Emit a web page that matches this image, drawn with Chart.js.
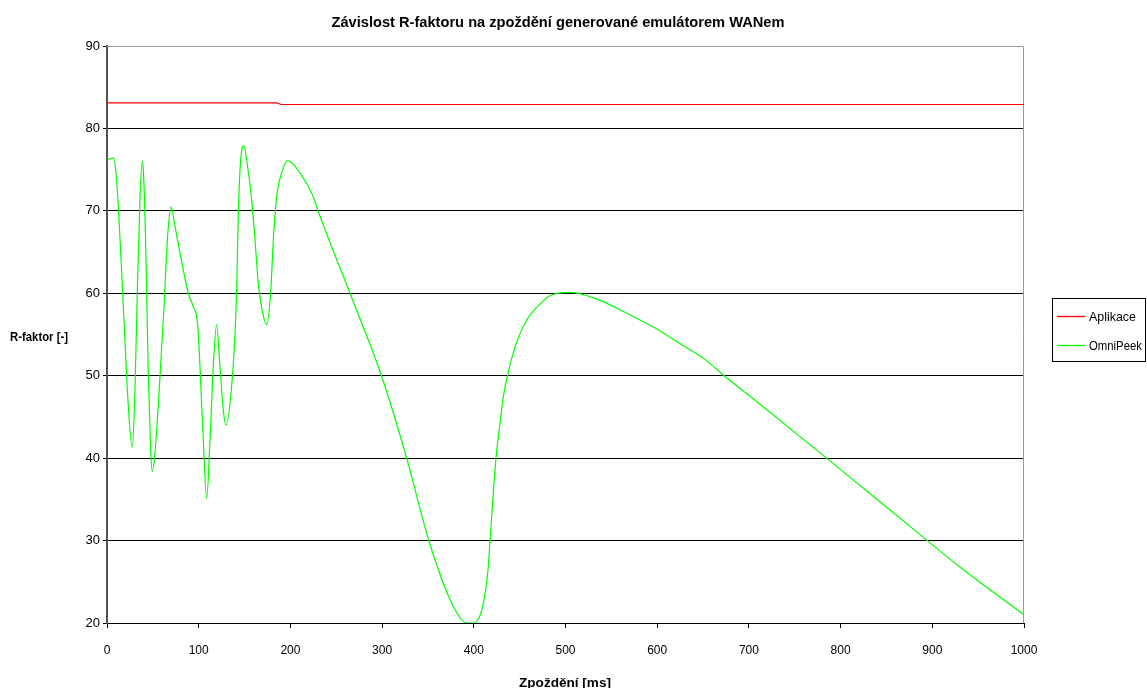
<!DOCTYPE html>
<html>
<head>
<meta charset="utf-8">
<script src="https://cdn.jsdelivr.net/npm/chart.js@4.4.1/dist/chart.umd.min.js"></script>
<style>
  body { margin: 0; background: #fff; overflow: hidden; }
  canvas { display: block; }
</style>
</head>
<body>
<canvas id="rChart" width="1147" height="688"></canvas>
<script>
const chartTitle = "Závislost R-faktoru na zpoždění generované emulátorem WANem";
const xTitle = "Zpoždění [ms]";
const yTitle = "R-faktor [-]";
const seriesNames = ["Aplikace", "OmniPeek"];

// Aplikace - almost flat
const aplikaceDelay = [0, 185, 190, 1000];
const aplikaceR = [83.1, 83.1, 82.9, 82.9];

// OmniPeek
const omniDelay = [
  0, 7.6, 9.8, 12.4, 17.8, 23.3, 27.6, 30.5, 33.1, 36, 38.5, 39.6, 42.1, 45, 47.6,
  49.4, 52.3, 57.8, 62.2, 66.1, 69.8, 74.2, 79.6, 88.7, 94.1, 98.9, 101.4, 105,
  108.7, 112.3, 115.9, 119.5, 123.2, 126.8, 129.8, 135.9, 139.6, 141.4, 143.2,
  145.8, 149.4, 152.3, 157.8, 161.4, 165, 169.8, 174.2, 178.4, 181.4, 185, 190.5,
  197, 210.5, 225, 230.5, 265, 299.6, 326.8, 351.5, 377.7, 392.3, 399.5, 409.6,
  415.8, 417.6, 424.2, 428.6, 432, 438.8, 445, 455.8, 463, 474, 483, 505, 517.6,
  543, 566.7, 595.8, 624.9, 654, 673, 704.8, 784.8, 895.7, 930, 1000
];
const omniR = [
  76.2, 76.4, 74.6, 70.5, 58.4, 46.2, 41.3, 48.3, 60.4, 71.7, 76.0, 75.0, 66.5, 50.3, 41.0,
  38.4, 40.6, 49.9, 58.4, 66.9, 70.5, 68.1, 64.9, 60.0, 58.4, 56.2, 51.1, 42.2,
  35.1, 42.2, 51.1, 56.2, 51.1, 45.8, 44.0, 48.7, 55.1, 60.4, 69.7,
  76.2, 77.9, 76.2, 71.3, 66.5, 61.2, 57.6, 56.2, 60.0, 66.5, 71.7, 74.6,
  76.1, 74.6, 71.7, 69.9, 60.0, 49.9, 40.0, 29.8, 22.0, 20.0, 20.0, 22.0,
  26.8, 29.8, 40.0, 44.2, 47.3, 51.0, 53.5, 56.4, 57.6, 58.9, 59.7, 60.1, 59.9,
  58.9, 57.6, 55.9, 53.9, 51.8, 50.0, 47.2, 40.0, 29.9, 26.8, 21.0
];

const xTicks = [0, 100, 200, 300, 400, 500, 600, 700, 800, 900, 1000];
const yTicks = [20, 30, 40, 50, 60, 70, 80, 90];

const toPoints = (xs, ys) => xs.map((x, i) => ({ x: x, y: ys[i] }));

// draw text squeezed/stretched to a given width (Excel's narrow rendering)
function fitText(ctx, text, cx, y, width, font) {
  ctx.save();
  ctx.font = font;
  const w = ctx.measureText(text).width;
  ctx.translate(cx, y);
  ctx.scale(width / w, 1);
  ctx.textAlign = "center";
  ctx.textBaseline = "alphabetic";
  ctx.fillText(text, 0, 0);
  ctx.restore();
}

const decorations = {
  id: "decorations",
  beforeDatasetsDraw(chart) {
    const ctx = chart.ctx;
    const a = chart.chartArea;
    // plot area border on top and right
    ctx.save();
    ctx.strokeStyle = "#9a9a9a";
    ctx.lineWidth = 1;
    ctx.beginPath();
    ctx.moveTo(a.left, a.top + 0.5);
    ctx.lineTo(a.right - 0.5, a.top + 0.5);
    ctx.lineTo(a.right - 0.5, a.bottom);
    ctx.stroke();
    ctx.restore();
  },
  afterDraw(chart) {
    const ctx = chart.ctx;
    ctx.save();
    ctx.fillStyle = "#000";
    fitText(ctx, chartTitle, 558, 27, 453, "bold 14px 'Liberation Sans', Arial");
    fitText(ctx, yTitle, 39, 341, 58, "bold 12px 'Liberation Sans', Arial");
    fitText(ctx, xTitle, 565, 687, 92, "bold 12px 'Liberation Sans', Arial");

    // legend box
    ctx.strokeStyle = "#000";
    ctx.lineWidth = 1;
    ctx.strokeRect(1052.5, 298.5, 93, 63);
    const rows = [316.5, 345.5];
    const widths = [47, 53];
    chart.data.datasets.forEach((ds, i) => {
      ctx.strokeStyle = ds.borderColor;
      ctx.lineWidth = 1.3;
      ctx.beginPath();
      ctx.moveTo(1057, rows[i]);
      ctx.lineTo(1085, rows[i]);
      ctx.stroke();
      ctx.fillStyle = "#000";
      fitText(ctx, ds.label, 1089 + widths[i] / 2, rows[i] + 4.5, widths[i], "12px 'Liberation Sans', Arial");
    });
    ctx.restore();
  }
};

const ctx = document.getElementById("rChart").getContext("2d");

new Chart(ctx, {
  type: "scatter",
  data: {
    datasets: [
      {
        label: seriesNames[0],
        data: toPoints(aplikaceDelay, aplikaceR),
        borderColor: "#ff0000",
        borderWidth: 1.2,
        showLine: true,
        pointRadius: 0,
        tension: 0
      },
      {
        label: seriesNames[1],
        data: toPoints(omniDelay, omniR),
        borderColor: "#00ff00",
        borderWidth: 1.2,
        showLine: true,
        pointRadius: 0,
        cubicInterpolationMode: "monotone"
      }
    ]
  },
  options: {
    responsive: false,
    animation: false,
    layout: {
      padding: { left: 0, right: 123, top: 46, bottom: 0 }
    },
    plugins: {
      legend: { display: false },
      title: { display: false },
      tooltip: { enabled: false }
    },
    scales: {
      x: {
        type: "linear",
        min: 0,
        max: 1000,
        afterBuildTicks(scale) {
          scale.ticks = xTicks.map(v => ({ value: v }));
        },
        afterFit(scale) {
          scale.height = 65;
        },
        grid: {
          drawOnChartArea: false,
          drawTicks: true,
          tickLength: 5,
          tickColor: "#000"
        },
        border: { color: "#000", width: 1 },
        ticks: {
          padding: 15,
          color: "#000",
          maxRotation: 0,
          callback: (v) => String(v),
          font: { family: "'Liberation Sans', Arial", size: 12 }
        }
      },
      y: {
        type: "linear",
        min: 20,
        max: 90,
        afterBuildTicks(scale) {
          scale.ticks = yTicks.map(v => ({ value: v }));
        },
        afterFit(scale) {
          scale.width = 107;
        },
        grid: {
          color: (c) => (c.tick && (c.tick.value === 90 || c.tick.value === 20)) ? "rgba(0,0,0,0)" : "#000",
          lineWidth: 1,
          drawTicks: true,
          tickLength: 4,
          tickColor: "#000"
        },
        border: { color: "#555", width: 2 },
        ticks: {
          padding: 3,
          color: "#000",
          callback: (v) => String(v),
          font: { family: "'Liberation Sans', Arial", size: 13 }
        }
      }
    }
  },
  plugins: [decorations]
});
</script>
</body>
</html>
